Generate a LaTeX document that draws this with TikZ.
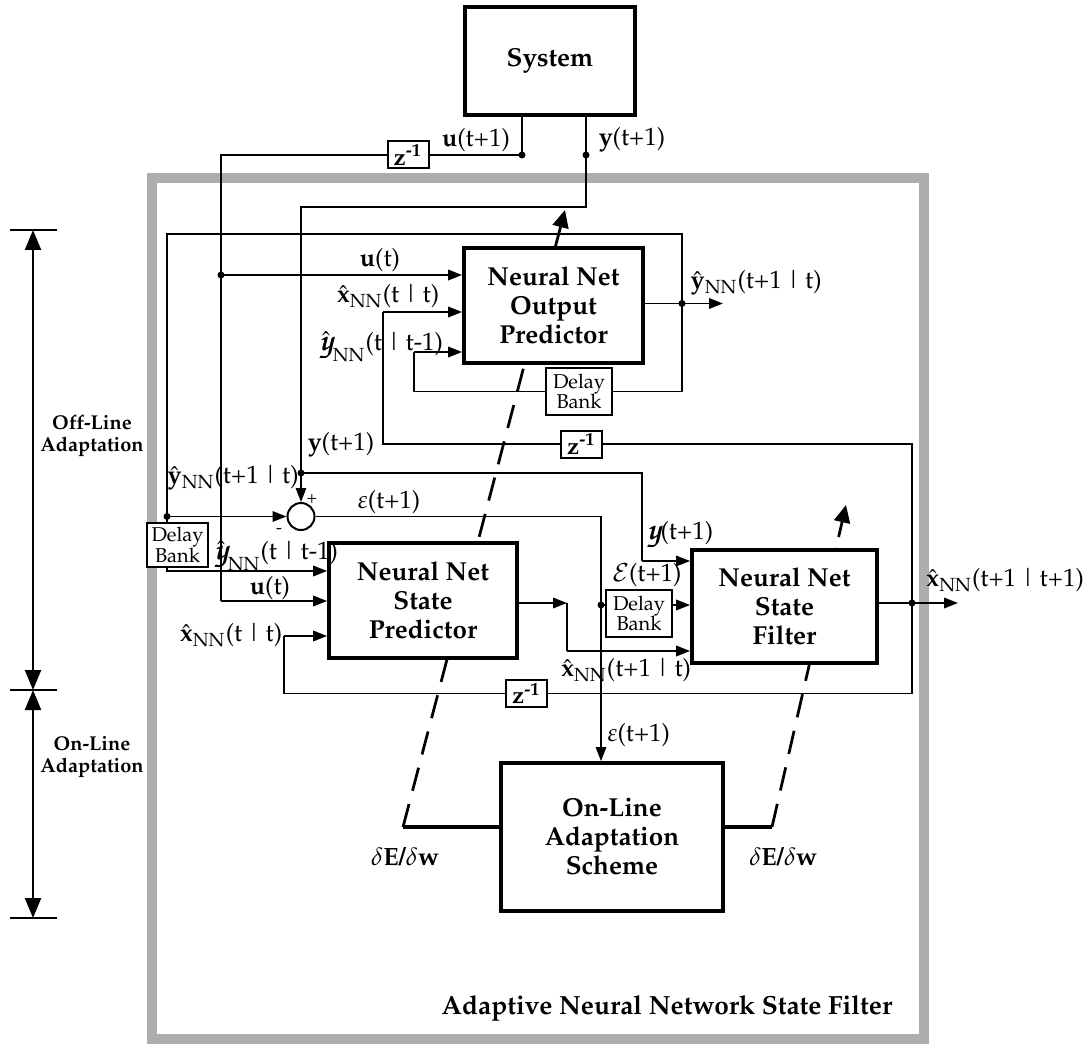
\documentclass[tikz,border=0pt]{standalone}
\usepackage[T1]{fontenc}
\usepackage{mathpazo}
\usepackage{amsmath}
\usetikzlibrary{arrows.meta,calc}

\newcommand{\cury}{\text{\fontfamily{pzc}\fontsize{13}{13}\selectfont\rlap{y}\kern0.3pt y}}
\newcommand{\xNN}{\ensuremath{\hat{\mathbf{x}}_{\mathrm{NN}}}}
\newcommand{\yNN}{\ensuremath{\hat{\mathbf{y}}_{\mathrm{NN}}}}
\newcommand{\cyNN}{\ensuremath{\hat{\cury}_{\mathrm{NN}}}}

\begin{document}
\begin{tikzpicture}[x=0.4pt,y=-0.4pt,font=\fontsize{10}{12}\selectfont,>={Triangle[length=5.6pt,width=4.2pt]}]
\path [use as bounding box] (0,0) rectangle (1085,1045);
\tikzstyle{bullet} = [circle, fill, inner sep=0pt, minimum size=2.8pt]
\tikzstyle{netbox} = [draw, line width=1.5pt, fill=white, align=center, inner sep=0pt, font=\fontsize{10.4}{11.6}\selectfont\bfseries]
\tikzstyle{delaybox} = [draw, line width=0.7pt, fill=white, align=center, inner sep=0pt, minimum width=26.4pt, minimum height=18.8pt, font=\fontsize{8}{8.2}\selectfont]
\tikzstyle{zbox} = [draw, line width=0.8pt, fill=white, inner sep=0pt, minimum width=16.4pt, minimum height=10.8pt, font=\fontsize{9.5}{10}\selectfont\bfseries]
\tikzstyle{wire} = [line width=0.75pt]
\tikzstyle{fine} = [line width=0.55pt]
\tikzstyle{adapt} = [line width=1.1pt, dash pattern=on 9.5pt off 5.5pt]
\tikzstyle{gradarrow} = [line width=1.1pt, -{Triangle[length=7pt,width=6.4pt]}]
\tikzstyle{spanarrow} = [line width=0.9pt, {Triangle[length=8pt,width=6.4pt]}-{Triangle[length=8pt,width=6.4pt]}]
\tikzstyle{lbl} = [inner sep=0pt]

% filter frame
\draw[line width=4pt, black!32] (152,178) rectangle (924,1039);

\coordinate (dEl) at (403,827);
\coordinate (dEr) at (772,827);
\coordinate (tipL) at (565,210);
\coordinate (tailL) at (555,248);
\coordinate (tipR) at (846,505);
\coordinate (tailR) at (838.6,537);
\draw[adapt] (dEl) -- (tailL);
\draw[adapt] (dEr) -- (tailR);

% blocks
\node[netbox, minimum width=68pt, minimum height=43.2pt] (sys) at (550,61) {System};
\node[netbox, minimum width=71.6pt, minimum height=46pt] (outp) at (553.5,305.5) {Neural Net\\Output\\Predictor};
\node[netbox, minimum width=75.2pt, minimum height=46pt] (statep) at (423,600.5) {Neural Net\\State\\Predictor};
\node[netbox, minimum width=74pt, minimum height=45.2pt] (filt) at (784.5,606.5) {Neural Net\\State\\Filter};
\node[netbox, minimum width=88.8pt, minimum height=59.2pt] (onl) at (612,837) {On-Line\\Adaptation\\Scheme};
\node[delaybox] (dbO) at (579,391.5) {Delay\\Bank};
\node[delaybox, minimum width=24.4pt, minimum height=17.6pt] (dbL) at (177.5,545) {Delay\\Bank};
\node[delaybox] (dbF) at (639,613.5) {Delay\\Bank};
\node[zbox] (zU) at (408,155) {z\textsuperscript{-1}};
\node[zbox] (zX) at (581.5,444) {z\textsuperscript{-1}};
\node[zbox] (zB) at (526.5,693.5) {z\textsuperscript{-1}};
\node[circle, draw, line width=0.8pt, fill=white, minimum size=10.8pt, inner sep=0pt] (sum) at (301,516.5) {};

\coordinate (uTap) at (522,155);
\coordinate (yTap) at (586,155);
\coordinate (yTop) at (586,207);
\coordinate (uIn) at (221,601);
\coordinate (uBr) at (221,275);
\coordinate (topL) at (167,234);
\coordinate (yOut) at (682,303.5);
\coordinate (yOutEnd) at (723,303.5);
\coordinate (yPrev) at (414,352);
\coordinate (xPrev) at (383,312);
\coordinate (yhL) at (167,516.5);
\coordinate (yhIn) at (167,571);
\coordinate (yBr) at (301,473);
\coordinate (yIn) at (642,561);
\coordinate (eBr) at (601,605);
\coordinate (spC) at (567,603);
\coordinate (spD) at (567,651);
\coordinate (xOut) at (912,603);
\coordinate (xOutEnd) at (958,603);
\coordinate (xLow) at (284,636);

% signals
\draw[wire] (sys.south -| uTap) -- (uTap) -- (zU.east);
\draw[wire] (zU.west) -| (uIn);
\draw[wire,->] (uIn) -- (uIn -| statep.west);
\draw[wire,->] (uBr) -- (uBr -| outp.west);
\draw[fine] (sys.south -| yTap) -- (yTop) -| (yBr);
\draw[fine,->] (yBr) -- (sum.north);
\draw[fine] (yBr) -| (yIn);
\draw[fine,->] (yIn) -- (yIn -| filt.west);
\draw[wire] (outp.east |- yOut) -- (yOut);
\draw[wire,->] (yOut) -- (yOutEnd);
\draw[wire] (yOut) |- (topL) -- (yhL |- dbL.north);
\draw[wire,->] (yhL) -- (sum.west);
\draw[wire,->] (yhL |- dbL.south) |- (yhIn -| statep.west);
\draw[wire] (yOut) |- (dbO.east);
\draw[wire] (dbO.west) -| (yPrev);
\draw[wire,->] (yPrev) -- (yPrev -| outp.west);
\draw[wire] (filt.east |- xOut) -- (xOut);
\draw[wire,->] (xOut) -- (xOutEnd);
\draw[wire] (xOut) |- (zX.east);
\draw[wire] (zX.west) -| (xPrev);
\draw[wire,->] (xPrev) -- (xPrev -| outp.west);
\draw[wire] (xOut) |- (zB.east);
\draw[wire] (zB.west) -| (xLow);
\draw[wire,->] (xLow) -- (xLow -| statep.west);
\draw[wire,->] (statep.east |- spC) -- (spC);
\draw[wire] (spC) -- (spD);
\draw[wire,->] (spD) -- (spD -| filt.west);
\draw[fine] (sum.east) -| (eBr);
\draw[fine,->] (eBr) -- (eBr |- onl.north);
\draw[fine] (eBr) -- (eBr -| dbF.west);
\draw[wire,->] (dbF.east |- eBr) -- (eBr -| filt.west);
\draw[line width=1.3pt] (onl.west |- dEl) -- (dEl);
\draw[line width=1.3pt] (onl.east |- dEr) -- (dEr);
\draw[gradarrow] (tailL) -- (tipL);
\draw[gradarrow] (tailR) -- (tipR);
\foreach \p in {uTap,yTap,uBr,yOut,yhL,yBr,eBr,xOut}
  \node[bullet] (b\p) at (\p) {};

% labels
\node[lbl] (lUa) at (476,140) {\textbf{u}(t+1)};
\node[lbl] (lYa) at (632,140) {\textbf{y}(t+1)};
\node[lbl] (lUb) at (380,260) {\textbf{u}(t)};
\node[lbl] (lXa) at (388,296) {\xNN(t\,|\,t)};
\node[lbl] (lCa) at (381,347) {\cyNN(t\,|\,t-1)};
\node[lbl] (lYh) at (756,283) {\yNN(t+1\,|\,t)};
\node[lbl] (lYb) at (341,445) {\textbf{y}(t+1)};
\node[lbl] (lYc) at (233,478) {\yNN(t+1\,|\,t)};
\node[lbl] (lEa) at (389,502) {$\varepsilon$(t+1)};
\node[lbl, font=\fontsize{7}{7}\selectfont] (lPl) at (312,499) {+};
\node[lbl, font=\fontsize{7}{7}\selectfont] (lMi) at (279,531) {-};
\node[lbl] (lCb) at (276,556) {\cyNN(t\,|\,t-1)};
\node[lbl] (lUc) at (270,588) {\textbf{u}(t)};
\node[lbl] (lXb) at (231,635) {\xNN(t\,|\,t)};
\node[lbl] (lCy) at (680,535) {\cury(t+1)};
\node[lbl] (lCe) at (647,575) {$\mathcal{E}$(t+1)};
\node[lbl] (lXc) at (626,670) {\xNN(t+1\,|\,t)};
\node[lbl] (lXd) at (1005,580) {\xNN(t+1\,|\,t+1)};
\node[lbl, anchor=west] (lEb) at (607,735) {$\varepsilon$(t+1)};
\node[lbl, font=\fontsize{10}{12}\selectfont\bfseries] (lGl) at (405,857) {$\delta$E/$\delta$w};
\node[lbl, font=\fontsize{10}{12}\selectfont\bfseries] (lGr) at (783,857) {$\delta$E/$\delta$w};
\node[lbl, font=\fontsize{10.5}{12}\selectfont\bfseries] (title) at (667,1008) {Adaptive Neural Network State Filter};

% adaptation phases
\coordinate (offT) at (33,230);
\coordinate (midT) at (33,690);
\coordinate (onB) at (33,918);
\foreach \c in {offT,midT,onB}
  \draw[line width=0.9pt] ($(\c)+(-23,0)$) -- ($(\c)+(24,0)$);
\draw[spanarrow] (offT) -- (midT);
\draw[spanarrow] (midT) -- (onB);
\node[align=center, font=\fontsize{8}{9}\selectfont\bfseries] (offL) at (92,436) {Off-Line\\Adaptation};
\node[align=center, font=\fontsize{8}{9}\selectfont\bfseries] (onL) at (92,757) {On-Line\\Adaptation};
\end{tikzpicture}
\end{document}
